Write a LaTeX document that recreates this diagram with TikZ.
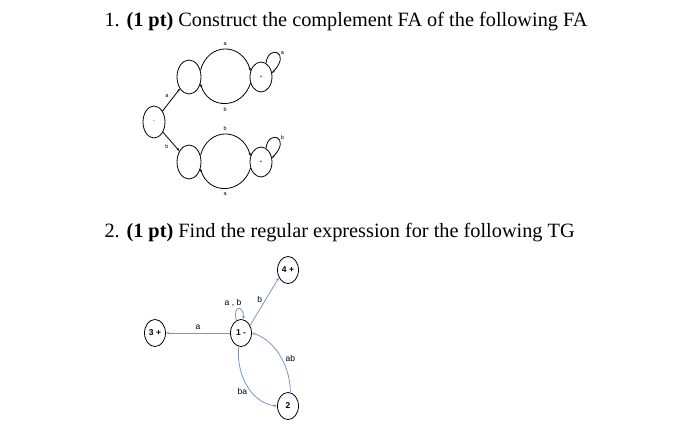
\documentclass[tikz,border=0pt]{standalone}
\usepackage{fontspec}
\setmainfont{Liberation Serif}
\newfontfamily\lab{Liberation Sans}
\usetikzlibrary{shapes.geometric,arrows.meta}
\definecolor{tgblue}{RGB}{120,150,205}
\begin{document}
\begin{tikzpicture}[x=1pt,y=-1pt,
 fa/.style={draw,thick,ellipse,minimum width=22pt,minimum height=32pt,inner sep=0pt,font=\lab\fontsize{5}{6}\selectfont},
 tg/.style={draw,thick,ellipse,minimum width=21pt,minimum height=27pt,inner sep=0pt,font=\lab\bfseries\fontsize{8.5}{9}\selectfont},
 fe/.style={thick,-{Stealth[length=3pt]}},
 te/.style={draw=tgblue,thick,-{Stealth[length=3.5pt]}},
 fl/.style={font=\lab\fontsize{5.5}{6}\selectfont},
 tl/.style={font=\lab\fontsize{8.5}{9}\selectfont},
 ttl/.style={font=\fontsize{20.3}{24}\selectfont,anchor=west}]
\useasboundingbox (0,0) rectangle (700,431);
\node[ttl] (t1) at (101,22) {1. \textbf{(1 pt)} Construct the complement FA of the following FA};
\node[ttl] (t2) at (101,233) {2. \textbf{(1 pt)} Find the regular expression for the following TG};
% FA
\node[fa] (m) at (154,122) {-};
\node[fa,minimum width=24pt,minimum height=34pt] (u) at (189,77) {};
\node[fa,minimum height=30pt] (up) at (261,77) {+};
\node[fa,minimum width=24pt,minimum height=34pt] (l) at (189,162) {};
\node[fa,minimum height=30pt] (lp) at (261,162) {+};
\draw[fe] (m) -- node[fl,above left=-1pt] {a} (u);
\draw[fe] (m) -- node[fl,below left=-1pt] {b} (l);
\draw[fe] (u.30) .. controls (208,42) and (242,42) .. node[fl,above] {a} (up.150);
\draw[fe] (up.-150) .. controls (242,110) and (208,110) .. node[fl,below] {b} (u.-30);
\draw[fe] (l.30) .. controls (208,127) and (242,127) .. node[fl,above] {b} (lp.150);
\draw[fe] (lp.-150) .. controls (242,195) and (208,195) .. node[fl,below] {a} (l.-30);
\draw[fe] (up.70) .. controls (268,44) and (292,52) .. node[fl,right] {a} (up.20);
\draw[fe] (lp.70) .. controls (268,129) and (292,137) .. node[fl,right] {b} (lp.20);
% TG
\node[tg] (n4) at (288,270) {4 +};
\node[tg] (n3) at (155,333) {3 +};
\node[tg] (n1) at (241,333) {1 -};
\node[tg] (n2) at (288,406) {2};
\draw[te] (n1) -- node[tl,above] {a} (n3);
\draw[te] (n1.40) -- node[tl,left,pos=0.55] {b} (n4.220);
\draw[te] (n1.110) .. controls (232,305) and (244,305) .. (n1.80);
\node[tl] (lab) at (233,303) {a , b};
\draw[te] (n2.80) .. controls (290,360) and (270,338) .. node[tl,right,pos=0.4] {ab} (n1.east);
\draw[te] (n1.-100) .. controls (236,380) and (255,404) .. node[tl,left,pos=0.55] {ba} (n2.west);
\end{tikzpicture}
\end{document}
